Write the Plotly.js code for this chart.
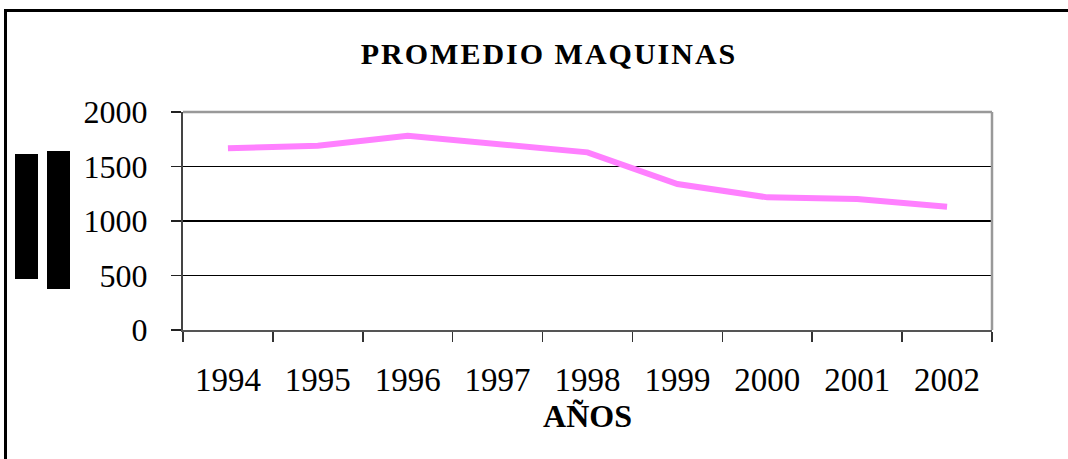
<!DOCTYPE html>
<html>
<head>
<meta charset="utf-8">
<script src="https://cdn.plot.ly/plotly-3.0.1.min.js"></script>
<style>
  html, body { margin: 0; padding: 0; background: #fff; overflow: hidden; }
  #wrap { position: relative; width: 1068px; height: 459px; overflow: hidden; }
  #chart { width: 1068px; height: 459px; }
  #frame { position: absolute; left: 4px; top: 9px; width: 1200px; height: 600px;
           border-left: 3px solid #000; border-top: 3px solid #000; pointer-events: none; }
  .gtitle { letter-spacing: 2px; }
</style>
</head>
<body>
<div id="wrap">
  <div id="chart"></div>
  <div id="frame"></div>
</div>
<script>
const years = ["1994", "1995", "1996", "1997", "1998", "1999", "2000", "2001", "2002"];
const promedio = [1667, 1691, 1783, 1704, 1630, 1339, 1217, 1202, 1131];
const yTicks = [0, 500, 1000, 1500, 2000];

const W = 1068, H = 459;
const L = 183, R = 992, T = 112, B = 330;
const px = x => (x - L) / (R - L);
const py = y => (B - y) / (B - T);

const serif = "Liberation Serif, Times New Roman, serif";

const trace = {
  type: "scatter",
  mode: "lines",
  x: years,
  y: promedio,
  line: { color: "#ff80ff", width: 6 },
  hoverinfo: "x+y",
  showlegend: false
};

const layout = {
  width: W, height: H,
  margin: { l: L, r: W - R, t: T, b: H - B, pad: 0 },
  paper_bgcolor: "#ffffff",
  plot_bgcolor: "#ffffff",
  title: {
    text: "<b>PROMEDIO MAQUINAS</b>",
    font: { family: serif, size: 30, color: "#000" },
    x: 549 / W, xref: "container", xanchor: "center",
    y: (H - 53) / H, yref: "container", yanchor: "middle"
  },
  xaxis: {
    type: "category",
    range: [-0.5, years.length - 0.5],
    tickson: "boundaries",
    ticks: "outside", ticklen: 10, tickwidth: 1.5, tickcolor: "#333",
    showline: true, linecolor: "#555", linewidth: 2,
    showgrid: false, zeroline: false,
    tickfont: { family: serif, size: 33, color: "#000" },
    ticklabelstandoff: 19,
    title: {
      text: "<b>AÑOS</b>",
      font: { family: serif, size: 32, color: "#000" },
      standoff: 8
    }
  },
  yaxis: {
    range: [0, 2000],
    tickvals: yTicks,
    ticktext: yTicks.map(String),
    ticks: "outside", ticklen: 10, tickwidth: 1.5, tickcolor: "#222",
    showline: true, linecolor: "#444", linewidth: 2,
    showgrid: true, gridcolor: "#000", gridwidth: 1.2,
    zeroline: false,
    tickfont: { family: serif, size: 32, color: "#000" },
    ticklabelstandoff: 17
  },
  shapes: [
    { type: "line", xref: "paper", yref: "paper", x0: 0, x1: 1, y0: 1, y1: 1,
      line: { color: "#999", width: 2.5 }, layer: "above" },
    { type: "line", xref: "paper", yref: "paper", x0: 1, x1: 1, y0: 0, y1: 1,
      line: { color: "#999", width: 2.5 }, layer: "above" },
    { type: "rect", xref: "paper", yref: "paper",
      x0: px(15), x1: px(38), y0: py(279), y1: py(154),
      line: { width: 0 }, fillcolor: "#000", layer: "above" },
    { type: "rect", xref: "paper", yref: "paper",
      x0: px(47), x1: px(70), y0: py(289), y1: py(151),
      line: { width: 0 }, fillcolor: "#000", layer: "above" }
  ]
};

Plotly.newPlot("chart", [trace], layout, { displayModeBar: false, staticPlot: true });
</script>
</body>
</html>
